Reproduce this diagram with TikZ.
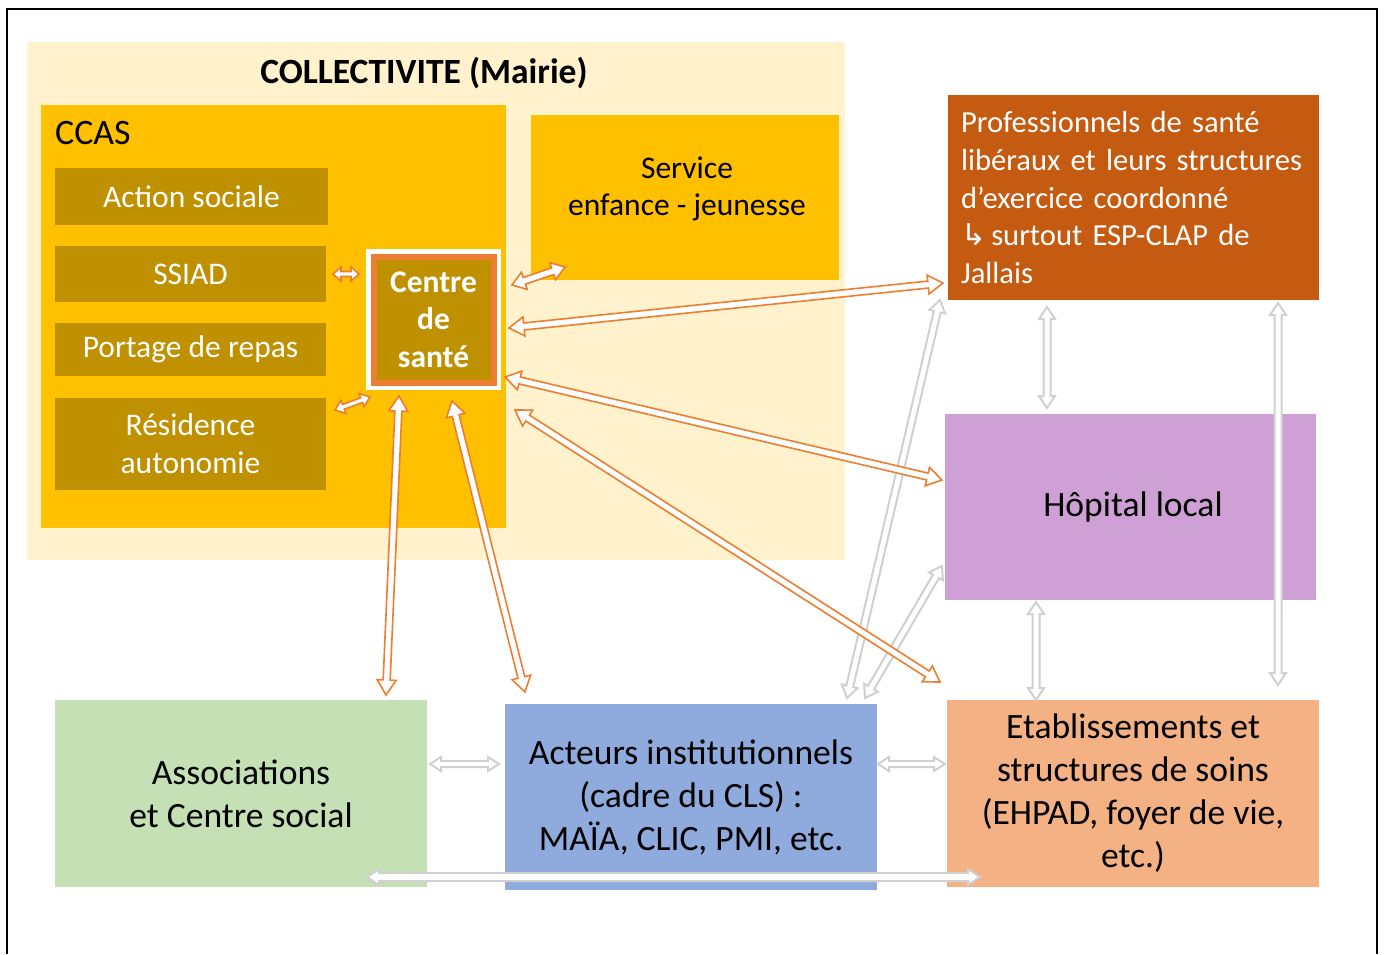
\documentclass[tikz,border=0pt]{standalone}
\usepackage{fontspec}
\setmainfont{Carlito}
\newfontfamily\symfont{DejaVu Sans}
\usetikzlibrary{calc}
\definecolor{cream}{HTML}{FFF2CC}
\definecolor{gold}{HTML}{FFC000}
\definecolor{dgold}{HTML}{BF9000}
\definecolor{oline}{HTML}{ED7D31}
\definecolor{rust}{HTML}{C55A11}
\definecolor{lilac}{HTML}{CFA0D5}
\definecolor{lgreen}{HTML}{C5E0B4}
\definecolor{lblue}{HTML}{8FAADC}
\definecolor{peach}{HTML}{F4B183}
\definecolor{lgray}{HTML}{D0D0D0}
\newcommand\hollowarrow[6]{%
  \path let \p1=(#1), \p2=(#2) in \pgfextra{%
    \pgfmathsetmacro\hArAng{atan2(\y2-\y1,\x2-\x1)}%
    \pgfmathsetmacro\hArLen{veclen(\x2-\x1,\y2-\y1)}%
    \pgfmathsetmacro\hArB{\hArLen-#6}%
    \xdef\hArAngG{\hArAng}\xdef\hArLenG{\hArLen pt}\xdef\hArBG{\hArB pt}};
  \draw[#3, fill=white, line join=miter, shift={(#1)}, rotate=\hArAngG]
    (0pt,0pt) -- (#6pt,#5pt) -- (#6pt,#4pt) -- (\hArBG,#4pt) -- (\hArBG,#5pt)
    -- (\hArLenG,0pt) -- (\hArBG,-#5pt) -- (\hArBG,-#4pt) -- (#6pt,-#4pt)
    -- (#6pt,-#5pt) -- cycle;
}
\begin{document}
\begin{tikzpicture}[x=1pt,y=-1pt,
  box/.style={draw=none, inner sep=0pt, align=center},
  subbox/.style={box, fill=dgold, text=white, minimum width=271pt, font=\fontsize{31.5}{38}\selectfont},
  bigtext/.style={font=\fontsize{35.6}{43}\selectfont},
  oarrow/.style={draw=oline, line width=1.6pt},
  garrow/.style={draw=lgray, line width=2pt}]
\useasboundingbox (0,0) rectangle (1386,954);
\draw[line width=2pt] (7,954) -- (7,9) -- (1377,9) -- (1377,954);
% containers
\node[box, fill=cream, minimum width=818pt, minimum height=518pt] (coll) at (436,301) {};
\node[font=\bfseries\fontsize{35.5}{40}\selectfont, inner sep=0pt] (colltitle) at (424,73) {COLLECTIVITE (Mairie)};
\node[box, fill=gold, minimum width=465pt, minimum height=423pt] (ccas) at (273.5,316.5) {};
\node[anchor=west, inner sep=0pt, font=\fontsize{35.8}{40}\selectfont] (ccastitle) at (55,133) {CCAS};
\node[box, fill=gold, minimum width=308pt, minimum height=165pt] (serv) at (685,197.5) {};
\node[box, font=\fontsize{31.5}{37}\selectfont] (servtext) at (687,188.5) {Service\\enfance - jeunesse};
% CCAS services
\node[subbox, minimum width=273pt, minimum height=57pt] (act) at (191.5,196.5) {Action sociale};
\node[subbox, minimum height=56pt] (ssiad) at (190.5,274) {SSIAD};
\node[subbox, minimum height=53pt] (port) at (190.5,349.5) {Portage de repas};
\node[subbox, minimum height=92pt] (res) at (190.5,444) {Résidence\\autonomie};
% Centre de santé
\node[box, fill=dgold, draw=oline, line width=6pt, preaction={draw=white, line width=15pt},
  minimum width=120pt, minimum height=126pt, text=white,
  font=\bfseries\fontsize{31.5}{37.5}\selectfont] (cds) at (433.5,319.5) {Centre\\de\\santé};
% right and bottom boxes
\node[box, fill=rust, minimum width=371pt, minimum height=205pt, text width=345pt, align=left,
  text=white, font=\fontsize{30.6}{37.7}\selectfont] (prof) at (1133.5,197.5)
  {Professionnels de santé\\libéraux et leurs structures\\d’exercice coordonné\\{\symfont\fontsize{30}{30}\selectfont ↳}\,surtout ESP-CLAP de\\Jallais};
\node[box, fill=lilac, minimum width=371pt, minimum height=186pt, bigtext] (hop) at (1130.5,507) {\hspace{5pt}\raisebox{5pt}{Hôpital local}};
\node[box, fill=lgreen, minimum width=372pt, minimum height=187pt, bigtext] (assoc) at (241,793.5) {Associations\\et Centre social};
\node[box, fill=lblue, minimum width=372pt, minimum height=186pt, bigtext] (acteurs) at (691,797) {Acteurs institutionnels\\(cadre du CLS) :\\MAÏA, CLIC, PMI, etc.};
\node[box, fill=peach, minimum width=372pt, minimum height=187pt, bigtext] (etab) at (1133,793.5) {Etablissements et\\structures de soins\\(EHPAD, foyer de vie,\\etc.)};
% arrow end points
\coordinate (g1a) at (1047,307); \coordinate (g1b) at (1047,408);
\coordinate (g2a) at (1278,303); \coordinate (g2b) at (1278,685);
\coordinate (g3a) at (1036,602); \coordinate (g3b) at (1036,700);
\coordinate (g4a) at (940,300);  \coordinate (g4b) at (847,698);
\coordinate (g5a) at (942,566);  \coordinate (g5b) at (865,698);
\coordinate (g6a) at (430,764);  \coordinate (g6b) at (499,764);
\coordinate (g7a) at (878,764);  \coordinate (g7b) at (945,764);
\coordinate (g8a) at (367,877);  \coordinate (g8b) at (980,877);
\coordinate (o1a) at (333,274);  \coordinate (o1b) at (359,274);
\coordinate (o2a) at (335,410);  \coordinate (o2b) at (370,397);
\coordinate (o3a) at (512,285);  \coordinate (o3b) at (565,267);
\coordinate (o4a) at (509,328);  \coordinate (o4b) at (943,283);
\coordinate (o5a) at (505,377);  \coordinate (o5b) at (942,480);
\coordinate (o6a) at (515,410);  \coordinate (o6b) at (940,682);
\coordinate (o7a) at (399,396);  \coordinate (o7b) at (386,695);
\coordinate (o8a) at (452,401);  \coordinate (o8b) at (525,692);
% gray arrows
\hollowarrow{g1a}{g1b}{garrow}{3.5}{8}{12}
\hollowarrow{g2a}{g2b}{garrow}{3.5}{8}{12}
\hollowarrow{g3a}{g3b}{garrow}{3.5}{8}{12}
\hollowarrow{g4a}{g4b}{garrow}{3.5}{8}{12}
\hollowarrow{g5a}{g5b}{garrow}{3.5}{8}{12}
\hollowarrow{g6a}{g6b}{garrow}{3}{7}{11}
\hollowarrow{g7a}{g7b}{garrow}{3}{7}{11}
\hollowarrow{g8a}{g8b}{garrow}{4}{8}{12}
% orange arrows
\hollowarrow{o1a}{o1b}{oarrow}{2.5}{7}{8}
\hollowarrow{o2a}{o2b}{oarrow}{2.5}{7}{9}
\hollowarrow{o3a}{o3b}{oarrow}{3.5}{9}{13}
\hollowarrow{o4a}{o4b}{oarrow}{3.5}{9.5}{15}
\hollowarrow{o5a}{o5b}{oarrow}{3.5}{9.5}{15}
\hollowarrow{o6a}{o6b}{oarrow}{3.5}{9.5}{15}
\hollowarrow{o7a}{o7b}{oarrow}{3.5}{9.5}{15}
\hollowarrow{o8a}{o8b}{oarrow}{3.5}{9.5}{15}
\end{tikzpicture}
\end{document}
